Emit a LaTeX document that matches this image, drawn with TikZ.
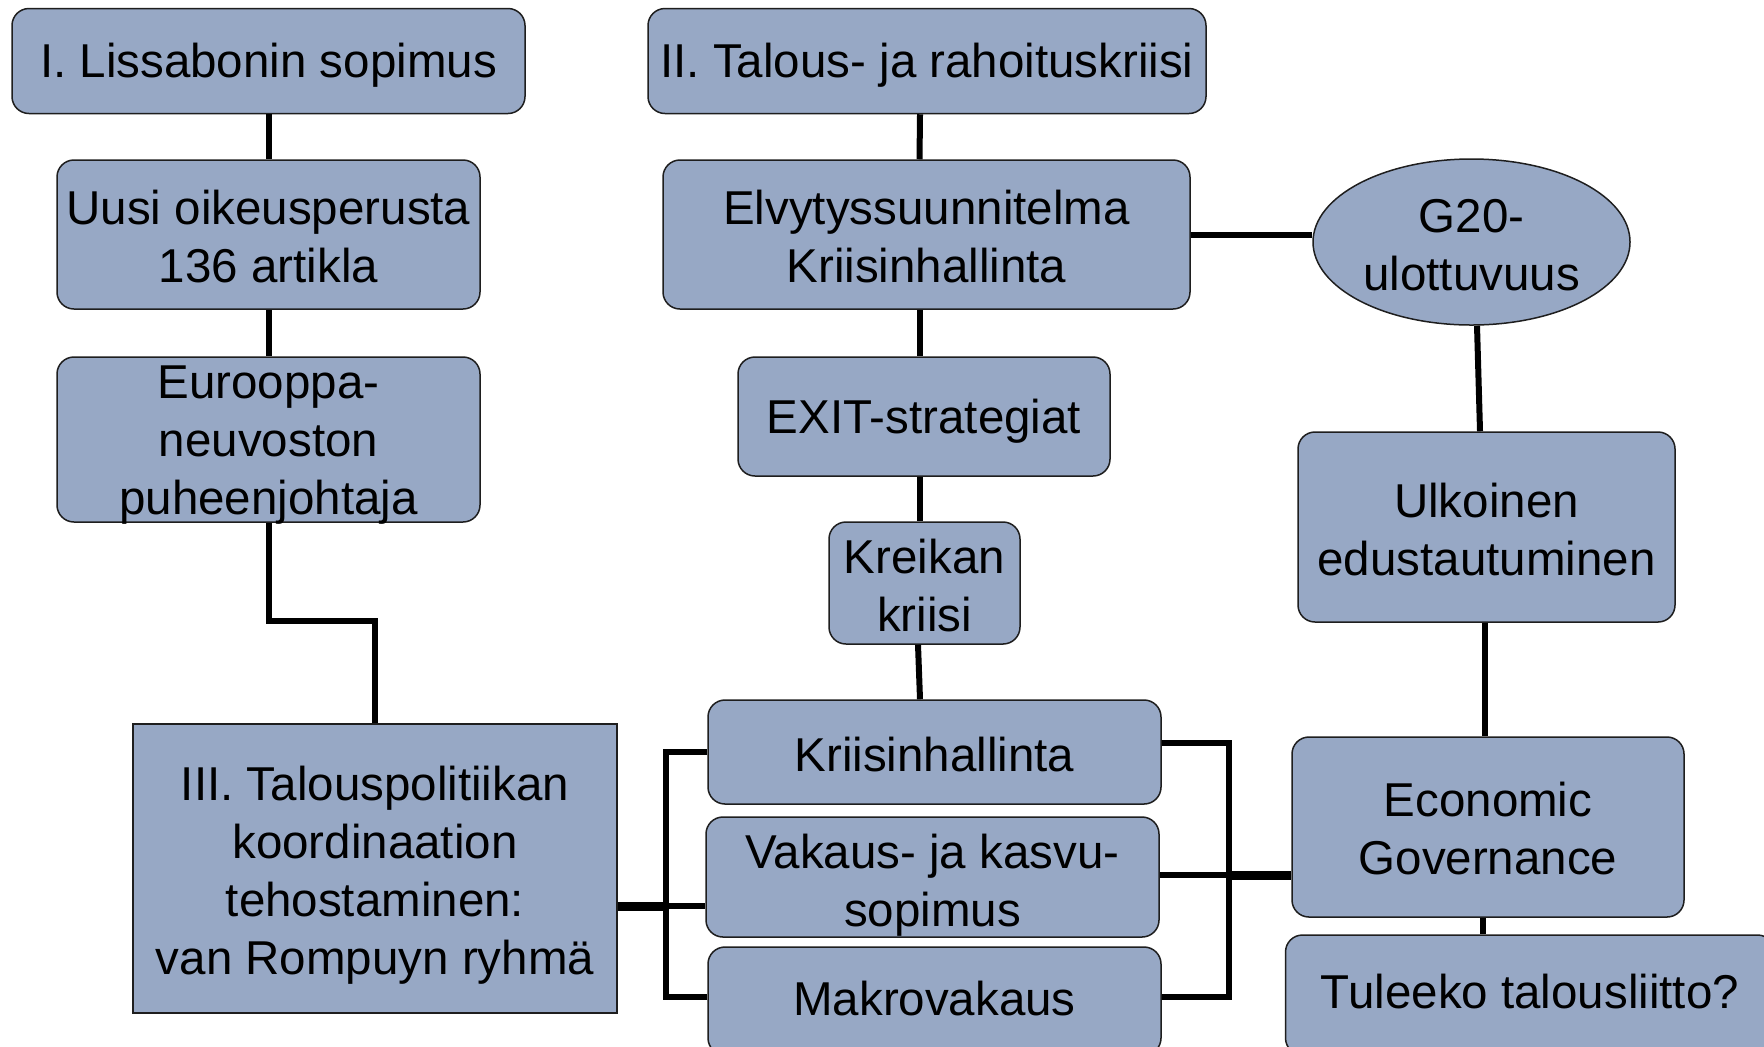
\documentclass[tikz,border=0pt]{standalone}
\usepackage{fontspec}
\setmainfont{Liberation Sans}
\usetikzlibrary{shapes.geometric,calc}
\definecolor{boxfill}{RGB}{151,168,197}
\definecolor{boxline}{RGB}{30,30,30}
\tikzset{
  box/.style={draw=boxline, line width=0.75pt, fill=boxfill, rounded corners=8.5pt,
    inner sep=0pt},
  sqbox/.style={box, rounded corners=0pt},
  ellbox/.style={box, ellipse},
  txt/.style={inner sep=0pt, align=center, font=\fontsize{23.75}{29}\selectfont},
  conn/.style={line width=3pt, black},
  thickconn/.style={line width=4.5pt, black}
}
\begin{document}
\begin{tikzpicture}[x=0.5pt,y=-0.5pt]
\useasboundingbox (0,0) rectangle (1764,1046);
\clip (0,0) rectangle (1764,1046);
\fill[white] (0,0) rectangle (1764,1046);

\coordinate (LB) at (666,906);
\coordinate (RB) at (1229,875);

% left column
\node[box, minimum width=256.5pt, minimum height=52.5pt] (I) at (268.5,61) {};
\node[txt] (IT) at ([yshift=-2.25pt]I.center) {I. Lissabonin sopimus};
\node[box, minimum width=211.5pt, minimum height=74.5pt] (Uusi) at (268.5,234.5) {};
\node[txt] (UusiT) at ([yshift=-1.1pt]Uusi.center) {Uusi oikeusperusta\\136 artikla};
\node[box, minimum width=211.5pt, minimum height=82.5pt] (Eur) at (268.5,439.5) {};
\node[txt] (EurT) at ([yshift=-3pt]Eur.center) {Eurooppa-\\neuvoston\\puheenjohtaja};
\node[sqbox, minimum width=242pt, minimum height=144.5pt] (III) at (375,868.5) {};
\node[txt] (IIIT) at ([yshift=-3.4pt]III.center) {III. Talouspolitiikan\\koordinaation\\tehostaminen:\\van Rompuyn ryhmä};

% middle column
\node[box, minimum width=279pt, minimum height=52.5pt] (II) at (927,61) {};
\node[txt] (IIT) at ([yshift=-2.25pt]II.center) {II. Talous- ja rahoituskriisi};
\node[box, minimum width=263.5pt, minimum height=74.5pt] (Elvy) at (926.5,234.5) {};
\node[txt] (ElvyT) at ([yshift=-1.1pt]Elvy.center) {Elvytyssuunnitelma\\Kriisinhallinta};
\node[box, minimum width=186pt, minimum height=59.5pt] (EXIT) at (924,416.5) {};
\node[txt] (EXITT) at ([yshift=-2.25pt]EXIT.center) {EXIT-strategiat};
\node[box, minimum width=95.5pt, minimum height=61pt] (Kre) at (924.5,583) {};
\node[txt] (KreT) at ([yshift=-1.1pt]Kre.center) {Kreikan\\kriisi};
\node[box, minimum width=226.5pt, minimum height=52pt] (Kri) at (934.5,752) {};
\node[txt] (KriT) at ([yshift=-1.1pt]Kri.center) {Kriisinhallinta};
\node[box, minimum width=226.5pt, minimum height=60pt] (Vak) at (932.5,877) {};
\node[txt] (VakT) at ([yshift=-4pt]Vak.center) {Vakaus- ja kasvu-\\sopimus};
\node[box, minimum width=226.5pt, minimum height=54pt] (Mak) at (934.5,1001) {};
\node[txt] (MakT) at ([yshift=1.1pt]Mak.center) {Makrovakaus};

% right column
\node[ellbox, minimum width=158.5pt, minimum height=83pt] (G20) at (1471.5,242) {};
\node[txt] (G20T) at ([yshift=-1.4pt]G20.center) {G20-\\ulottuvuus};
\node[box, minimum width=188.5pt, minimum height=95pt] (Ulk) at (1486.5,527) {};
\node[txt] (UlkT) at ([yshift=-1.4pt]Ulk.center) {Ulkoinen\\edustautuminen};
\node[box, minimum width=196pt, minimum height=90pt] (Eco) at (1488,827) {};
\node[txt] (EcoT) at ([yshift=-0.6pt]Eco.center) {Economic\\Governance};
\node[box, minimum width=244.5pt, minimum height=60pt] (Tul) at (1530,995) {};
\node[txt] (TulT) at ([yshift=1.7pt]Tul.center) {Tuleeko talousliitto?};

% connectors
\draw[conn] (I.south) -- (Uusi.north);
\draw[conn] (Uusi.south) -- (Eur.north);
\draw[conn] (Eur.south) -- ++(0,98) -| (III.north);

\draw[conn] ([xshift=-3.5pt]II.south) -- ([xshift=-3.5pt]Elvy.north);
\draw[conn] ([xshift=-3.25pt]Elvy.south) -- ([xshift=-2pt]EXIT.north);
\draw[conn] ([xshift=-2pt]EXIT.south) -- ([xshift=-2.25pt]Kre.north);
\draw[conn] ([xshift=-3.25pt]Kre.south) -- ([xshift=-7.25pt]Kri.north);

\draw[conn] (Elvy.east) -- (Elvy.east -| G20.west);
\draw[conn] ([xshift=2.75pt]G20.south) -- ([xshift=-3.25pt]Ulk.north);
\draw[conn] ([xshift=-0.75pt]Ulk.south) -- ([xshift=-0.75pt]Ulk.south |- Eco.north);
\draw[conn] ([xshift=-2.5pt]Eco.south) -- ([xshift=-2.5pt]Eco.south |- Tul.north);

% left bracket
\draw[conn] (Kri.west) -| (LB);
\draw[conn] ([yshift=2pt]Mak.west) -| (LB);
\draw[conn] (LB) -- (LB -| Vak.west);
\draw[thickconn] (III.east |- LB) -- (LB);

% right bracket
\draw[conn] ([yshift=4.5pt]Kri.east) -| (RB);
\draw[conn] ([yshift=2pt]Mak.east) -| (RB);
\draw[conn] (Vak.east |- RB) -- (RB);
\draw[thickconn] (RB) -- (RB -| Eco.west);
\end{tikzpicture}
\end{document}
